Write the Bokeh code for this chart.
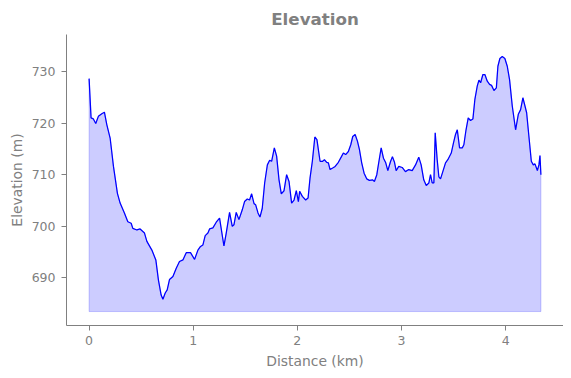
from bokeh.plotting import figure
from bokeh.models import Range1d, FixedTicker
from bokeh.embed import file_html
from bokeh.resources import INLINE

distance_km = [
    0.000, 0.019, 0.041, 0.064, 0.089, 0.122, 0.147, 0.170, 0.202, 0.234,
    0.272, 0.298, 0.339, 0.372, 0.404, 0.420, 0.459, 0.490, 0.532, 0.555,
    0.603, 0.641, 0.666, 0.692, 0.709, 0.731, 0.750, 0.772, 0.805, 0.837,
    0.868, 0.901, 0.933, 0.974, 1.013, 1.045, 1.070, 1.093, 1.115, 1.141,
    1.157, 1.189, 1.221, 1.253, 1.295, 1.317, 1.349, 1.375, 1.391, 1.413,
    1.439, 1.471, 1.493, 1.519, 1.541, 1.561, 1.584, 1.599, 1.622, 1.641,
    1.663, 1.686, 1.712, 1.734, 1.753, 1.779, 1.801, 1.824, 1.846, 1.872,
    1.897, 1.920, 1.945, 1.968, 1.990, 2.010, 2.022, 2.048, 2.080, 2.103,
    2.122, 2.144, 2.168, 2.188, 2.218, 2.243, 2.260, 2.282, 2.298, 2.314,
    2.339, 2.363, 2.394, 2.426, 2.442, 2.464, 2.490, 2.513, 2.532, 2.555,
    2.577, 2.596, 2.618, 2.641, 2.666, 2.692, 2.724, 2.740, 2.763, 2.786,
    2.805, 2.827, 2.849, 2.869, 2.894, 2.913, 2.933, 2.949, 2.974, 3.007,
    3.038, 3.070, 3.103, 3.135, 3.166, 3.189, 3.214, 3.238, 3.263, 3.279,
    3.295, 3.311, 3.324, 3.343, 3.359, 3.375, 3.397, 3.423, 3.445, 3.478,
    3.500, 3.519, 3.536, 3.558, 3.584, 3.599, 3.620, 3.641, 3.663, 3.686,
    3.705, 3.728, 3.744, 3.760, 3.782, 3.801, 3.824, 3.846, 3.865, 3.888,
    3.911, 3.926, 3.945, 3.968, 3.993, 4.016, 4.038, 4.064, 4.096, 4.122,
    4.144, 4.166, 4.186, 4.202, 4.224, 4.247, 4.266, 4.282, 4.305, 4.320,
    4.330, 4.339,
]

elevation_m = [
    728.6, 721.0, 720.8, 719.9, 721.3, 721.8, 722.1, 719.7, 717.1, 711.6,
    706.4, 704.5, 702.6, 700.9, 700.6, 699.6, 699.3, 699.5, 698.7, 697.1,
    695.4, 693.5, 689.6, 686.7, 685.9, 687.1, 687.7, 689.7, 690.3, 691.9,
    693.2, 693.5, 694.9, 694.9, 693.6, 695.4, 696.1, 696.4, 698.2, 698.7,
    699.5, 699.7, 700.8, 701.6, 696.2, 698.7, 702.7, 700.0, 700.3, 702.7,
    701.3, 703.2, 704.8, 705.3, 705.1, 706.3, 704.4, 704.2, 702.6, 701.8,
    703.5, 708.4, 711.9, 712.8, 712.6, 715.2, 713.6, 709.0, 706.3, 706.9,
    710.0, 708.7, 704.5, 705.1, 706.9, 704.8, 706.8, 705.8, 705.1, 705.5,
    709.4, 712.6, 717.3, 716.8, 712.6, 712.6, 712.9, 712.4, 712.3, 711.0,
    711.3, 711.6, 712.4, 713.6, 714.2, 713.9, 714.5, 715.8, 717.4, 717.8,
    716.5, 714.9, 712.3, 710.3, 709.2, 708.9, 709.0, 708.7, 710.0, 712.9,
    715.2, 713.2, 712.3, 710.8, 712.5, 713.5, 712.4, 710.8, 711.6, 711.4,
    710.6, 711.0, 710.8, 711.9, 713.4, 711.9, 709.0, 707.9, 708.4, 710.0,
    708.4, 708.4, 718.1, 712.9, 709.6, 709.2, 710.6, 712.3, 712.9, 714.2,
    716.2, 717.8, 718.7, 715.2, 715.2, 715.8, 718.7, 721.0, 720.5, 720.8,
    724.6, 727.2, 728.3, 727.8, 729.4, 729.4, 728.1, 727.5, 727.3, 726.3,
    726.8, 731.0, 732.5, 732.9, 732.5, 731.0, 728.4, 723.3, 718.7, 721.7,
    722.6, 724.9, 723.3, 722.0, 717.4, 712.6, 711.9, 712.1, 710.8, 711.9,
    713.7, 710.0,
]

baseline_m = 683.5
x_ticks = [0, 1, 2, 3, 4]
y_ticks = [690, 700, 710, 720, 730]

GRAY = "#808080"

p = figure(
    frame_width=497, frame_height=291,
    output_backend="svg", toolbar_location=None,
    x_range=Range1d(-0.217, 4.556), y_range=Range1d(680.8, 737.15),
    title="Elevation",
    min_border_left=66, min_border_right=0,
    min_border_top=34, min_border_bottom=45,
)

poly_x = [distance_km[0]] + distance_km + [distance_km[-1]]
poly_y = [baseline_m] + elevation_m + [baseline_m]
p.patch(poly_x, poly_y, fill_color="blue", fill_alpha=0.2,
        line_color="blue", line_alpha=0.2, line_width=1)
p.line(distance_km, elevation_m, line_color="blue", line_width=1.25)

p.title.text_font = "DejaVu Sans"
p.title.text_font_size = "16.7px"
p.title.text_font_style = "bold"
p.title.text_color = GRAY
p.title.align = "center"
p.title.standoff = 12

p.grid.visible = False
p.outline_line_color = None

p.xaxis.ticker = FixedTicker(ticks=x_ticks)
p.yaxis.ticker = FixedTicker(ticks=y_ticks)
p.xaxis.axis_label = "Distance (km)"
p.yaxis.axis_label = "Elevation (m)"

for ax in (p.xaxis, p.yaxis):
    ax.axis_line_color = GRAY
    ax.major_tick_line_color = GRAY
    ax.minor_tick_line_color = None
    ax.major_tick_in = 0
    ax.major_tick_out = 5
    ax.major_label_text_color = GRAY
    ax.major_label_text_font = "DejaVu Sans"
    ax.major_label_text_font_size = "12.5px"
    ax.axis_label_text_color = GRAY
    ax.axis_label_text_font = "DejaVu Sans"
    ax.axis_label_text_font_size = "13.9px"
    ax.axis_label_text_font_style = "normal"

p.xaxis.major_label_standoff = 5
p.xaxis.axis_label_standoff = 5
p.yaxis.major_label_standoff = 6
p.yaxis.axis_label_standoff = 4

open("out.html", "w").write(file_html(p, INLINE))
